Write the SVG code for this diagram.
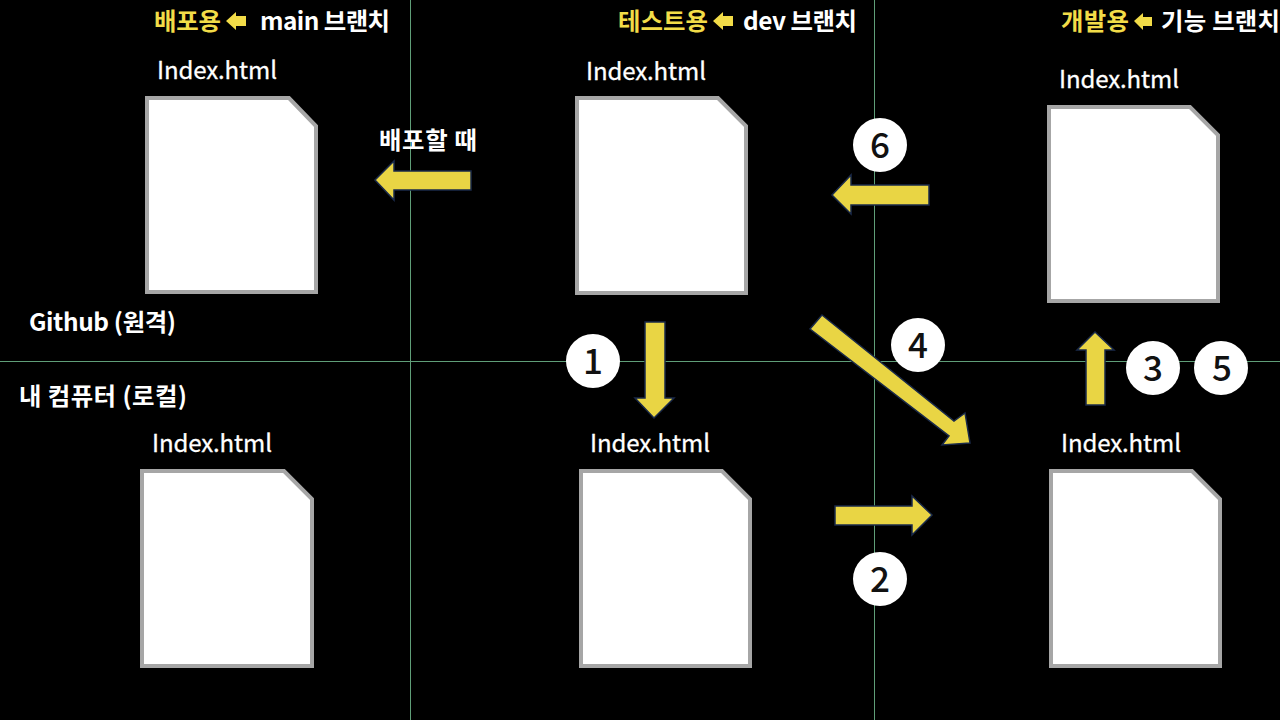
<svg xmlns="http://www.w3.org/2000/svg" width="1280" height="720" viewBox="0 0 1280 720">
<style>
text{font-family:"Noto Sans CJK KR","Noto Sans",sans-serif}
.h{font-size:24.400px;font-weight:700;fill:#fff}
.y{fill:#f2dc48}
.w{font-size:24px;font-weight:400;fill:#fff;stroke:#fff;stroke-width:.3}
.l{font-size:24.400px;font-weight:700;fill:#fff}
.f{fill:#fff;stroke:#a6a6a6;stroke-width:4}
.a{fill:#e9d544;stroke:#1a2a4a;stroke-width:1.500}
.g{stroke:#5f9e78;stroke-width:1;fill:none}
.c{fill:#fff}
.n{font-size:35px;font-weight:500;fill:#111;text-anchor:middle}
.s{fill:#f2dc48}
</style>
<rect width="1280" height="720" fill="#000"/>
<g id="grid"><line class="g" x1="410.500" y1="0" x2="410.500" y2="720"/><line class="g" x1="874.500" y1="0" x2="874.500" y2="720"/><line class="g" x1="0" y1="361.500" x2="1280" y2="361.500"/></g>
<g id="headers">
<text class="h y" x="154" y="30" textLength="67">배포용</text><path class="s" d="M226 21l10-9v4h10v10h-10v4z"/><text class="h" x="260" y="30" textLength="130">main 브랜치</text>
<text class="h y" x="618" y="30" textLength="90">테스트용</text><path class="s" d="M713 21l10-9v4h10v10h-10v4z"/><text class="h" x="743" y="30" textLength="114">dev 브랜치</text>
<text class="h y" x="1061" y="30" textLength="68">개발용</text><path class="s" d="M1134 21l9-8v4h9v9h-9v4z"/><text class="h" x="1161" y="30" textLength="119">기능 브랜치</text>
</g>
<g id="node-main"><text class="w" x="157" y="79" textLength="120">Index.html</text><path class="f" d="M147 98H289L316 126V292H147Z"/></g>
<g id="node-dev"><text class="w" x="586" y="80" textLength="120">Index.html</text><path class="f" d="M577 98H718L746 126V293H577Z"/></g>
<g id="node-feature"><text class="w" x="1059" y="88" textLength="120">Index.html</text><path class="f" d="M1049 107H1190L1218 135V301H1049Z"/></g>
<g id="node-local-main"><text class="w" x="152" y="452" textLength="120">Index.html</text><path class="f" d="M142 471H284L312 499V666H142Z"/></g>
<g id="node-local-dev"><text class="w" x="590" y="452" textLength="120">Index.html</text><path class="f" d="M581 471H722L750 499V666H581Z"/></g>
<g id="node-local-feature"><text class="w" x="1061" y="452" textLength="120">Index.html</text><path class="f" d="M1051 471H1192L1220 499V666H1051Z"/></g>
<g id="labels">
<text class="l" x="29" y="331" textLength="147">Github (원격)</text>
<text class="l" x="19" y="405" textLength="168">내 컴퓨터 (로컬)</text>
<text class="l" x="379" y="149" textLength="98">배포할 때</text>
</g>
<g id="connectors">
<path class="a" d="M471 171H394V161L375 180L394 200V190H471Z"/>
<path class="a" d="M929 185H851V175L832 195L851 214V205H929Z"/>
<path class="a" d="M645 322H665V398H674L654 418L635 398H645Z"/>
<path class="a" d="M835 506H912V496L932 515L912 535V525H835Z"/>
<path class="a" d="M1086 405H1105V350H1114L1095 332L1077 350H1086Z"/>
<path class="a" d="M822 315L954 421L965 413L970 443L942 445L949 436L810 329Z"/>
</g>
<g id="badges">
<g id="badge-1"><circle class="c" cx="593" cy="361" r="27"/><text class="n" x="593" y="374">1</text></g>
<g id="badge-2"><circle class="c" cx="880" cy="579" r="27"/><text class="n" x="880" y="592">2</text></g>
<g id="badge-3"><circle class="c" cx="1153" cy="368" r="27"/><text class="n" x="1153" y="381">3</text></g>
<g id="badge-4"><circle class="c" cx="918" cy="345" r="27"/><text class="n" x="918" y="358">4</text></g>
<g id="badge-5"><circle class="c" cx="1221" cy="368" r="27"/><text class="n" x="1222" y="381">5</text></g>
<g id="badge-6"><circle class="c" cx="880" cy="145" r="27"/><text class="n" x="880" y="158">6</text></g>
</g>
</svg>
